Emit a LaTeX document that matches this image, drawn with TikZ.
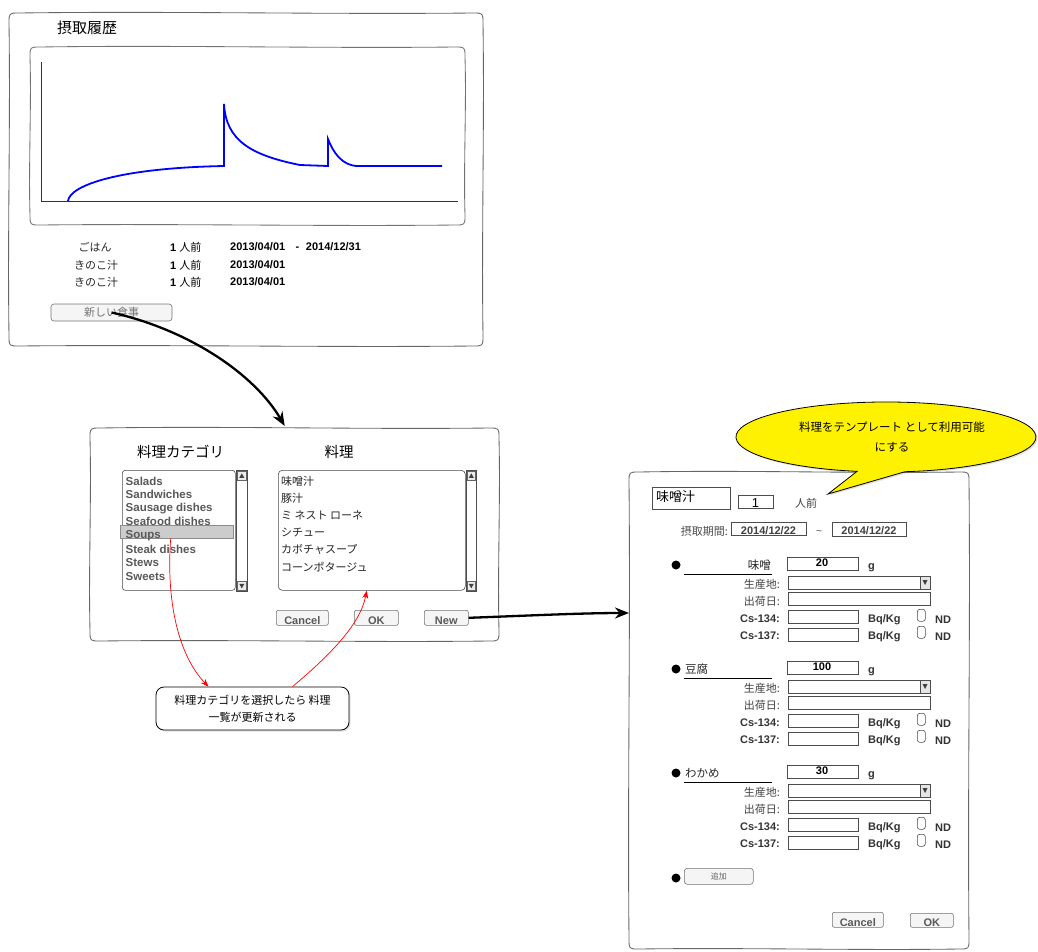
\documentclass[tikz,border=0pt]{standalone}
\usepackage{fontspec}
\setmainfont{Liberation Sans}
\newfontfamily\jp{Noto Sans CJK JP}
\usetikzlibrary{arrows.meta,shadows,calc}

\tikzset{
  framestyle/.style={draw=black!60, line width=0.85pt},
  field/.style={draw=black!70, line width=0.6pt, fill=white, inner sep=0pt},
  btn/.style={draw=black!55, line width=0.6pt, fill=black!4, rounded corners=2pt, inner sep=0pt,
    text=black!65, font=\bfseries\fontsize{11}{13}\selectfont},
  low/.style={text height=13pt, text depth=0pt},
  lbl/.style={inner sep=0pt, text=black!85, font=\fontsize{11}{13}\selectfont},
  jlbl/.style={inner sep=0pt, text=black!85, font=\jp\fontsize{11}{13}\selectfont},
  blbl/.style={inner sep=0pt, text=black!80, font=\bfseries\fontsize{11}{13}\selectfont},
  dot/.style={circle, fill=black, inner sep=0pt, minimum size=9pt},
  chk/.style={draw=black!70, line width=0.6pt, rounded corners=2.5pt, inner sep=0pt,
    minimum width=8pt, minimum height=12pt},
  bigarrow/.style={draw=black, line width=2.3pt, -{Stealth[length=14pt,width=11pt]}},
  redarrow/.style={draw=red, line width=0.7pt, -{Stealth[length=8pt,width=6pt]}},
}

% hand-drawn window frame: [options]{name}{x1}{y1}{x2}{y2}
\newcommand\sketchframe[6][]{%
  \node[inner sep=0pt, anchor=north west, minimum width={((#5)-(#3))*1pt},
        minimum height={((#6)-(#4))*1pt}] (#2) at ({#3},{#4}) {};
  \draw[framestyle,#1]
    ({#3+10},{#4}) .. controls ({#3+((#5)-(#3))/3},{#4-2}) and ({#3+2*((#5)-(#3))/3},{#4+1.5}) .. ({#5-10},{#4})
    .. controls ({#5},{#4}) .. ({#5},{#4+10})
    .. controls ({#5+1.5},{#4+((#6)-(#4))/3}) and ({#5-1.5},{#4+2*((#6)-(#4))/3}) .. ({#5},{#6-10})
    .. controls ({#5},{#6}) .. ({#5-10},{#6})
    .. controls ({#3+2*((#5)-(#3))/3},{#6+1.5}) and ({#3+((#5)-(#3))/3},{#6-1.5}) .. ({#3+10},{#6})
    .. controls ({#3},{#6}) .. ({#3},{#6-10})
    .. controls ({#3-1.5},{#4+2*((#6)-(#4))/3}) and ({#3+1.5},{#4+((#6)-(#4))/3}) .. ({#3},{#4+10})
    .. controls ({#3},{#4}) .. ({#3+10},{#4}) -- cycle;
}

% input field given by its corners: [options]{name}{x1}{y1}{x2}{y2}
\newcommand\fld[6][]{%
  \node[field,#1,anchor=north west,
        minimum width={((#5)-(#3))*1pt},minimum height={((#6)-(#4))*1pt}] (#2) at ({#3},{#4}) {};}

% vertical scroll bar: {name}{x1}{y1}{x2}{y2}
\newcommand\scrollbar[5]{%
  \fld{#1}{#2}{#3}{#4}{#5}
  \fld[fill=black!8,draw=black!60]{#1up}{#2+1}{#3+1}{#4-1}{#3+10}
  \fld[fill=black!8,draw=black!60]{#1down}{#2+1}{#5-10}{#4-1}{#5-1}
  \fill[black!75] ($(#1up.center)+(-2.5,2)$) -- ($(#1up.center)+(2.5,2)$) -- ($(#1up.center)+(0,-2.5)$) -- cycle;
  \fill[black!75] ($(#1down.center)+(-2.5,-2)$) -- ($(#1down.center)+(2.5,-2)$) -- ($(#1down.center)+(0,2.5)$) -- cycle;
}

% one ingredient block: {prefix}{base y}{name anchor}{name x}{name}{amount}
\newcommand\ingredient[6]{%
  \node[dot] (#1dot) at (676,#2) {};
  \node[jlbl, font=\jp\fontsize{11.5}{13}\selectfont, anchor=#3] (#1name) at (#4,#2) {#5};
  \draw[black, line width=0.8pt] (684,#2+9) -- (772,#2+9);
  \fld{#1amt}{787}{#2-8}{858}{#2+5}
  \node[blbl, text=black] (#1amttext) at (822,#2-2) {#6};
  \node[blbl] (#1unit) at (871.5,#2+3) {g};
  % origin
  \node[jlbl, text=black!75, anchor=east] (#1origlbl) at (780,#2+19) {生産地:};
  \fld{#1orig}{788}{#2+11}{930}{#2+24}
  \fld[fill=black!10]{#1origbtn}{920}{#2+11}{930}{#2+24}
  \fill[black!75] (922.5,#2+15) -- (927.5,#2+15) -- (925,#2+20) -- cycle;
  % shipping date
  \node[jlbl, text=black!75, anchor=east] (#1shiplbl) at (780,#2+36) {出荷日:};
  \fld{#1ship}{788}{#2+27}{930}{#2+40}
  % caesium 134
  \node[blbl, anchor=east] (#1csalbl) at (780,#2+54) {Cs-134:};
  \fld{#1csa}{788}{#2+45}{858}{#2+58}
  \node[blbl, anchor=west] (#1csaunit) at (868,#2+55) {Bq/Kg};
  \node[chk, anchor=north west] (#1csachk) at (917,#2+44) {};
  \node[blbl, anchor=west] (#1csand) at (935,#2+55) {ND};
  % caesium 137
  \node[blbl, anchor=east] (#1csblbl) at (780,#2+71) {Cs-137:};
  \fld{#1csb}{788}{#2+63}{858}{#2+76}
  \node[blbl, anchor=west] (#1csbunit) at (868,#2+72) {Bq/Kg};
  \node[chk, anchor=north west] (#1csbchk) at (917,#2+61) {};
  \node[blbl, anchor=west] (#1csbnd) at (935,#2+72) {ND};
}

\begin{document}
\begin{tikzpicture}[x=1pt,y=-1pt]
\useasboundingbox (0,0) rectangle (1038,951);

% ---------------- intake history window ----------------
\sketchframe{hist}{9}{13}{483}{346}
\node[jlbl, font=\jp\fontsize{15}{18}\selectfont, text=black, anchor=west] (histtitle) at (57,28) {摂取履歴};
\sketchframe[draw=black!55]{chart}{30}{47}{465}{225}
\draw[black!80, line width=1pt] (41,62) -- (41,201) -- (458,201);
\draw[blue, line width=1.8pt, line join=miter]
  (68,201) .. controls (70,185) and (120,168) .. (224,166) -- (224,104)
  .. controls (226,140) and (250,155) .. (300,165) -- (328,166) -- (328,139)
  .. controls (333,152) and (342,166) .. (358,166) -- (442,166);

\node[jlbl] (r1food) at (95,247) {ごはん};
\node[blbl, text=black, anchor=west] (r1qty) at (170,247) {1 \mdseries\jp 人前};
\node[blbl, text=black, anchor=west] (r1dates) at (230,247) {2013/04/01\hspace{10.5pt}-\hspace{6.5pt}2014/12/31};
\node[jlbl] (r2food) at (96,265) {きのこ汁};
\node[blbl, text=black, anchor=west] (r2qty) at (170,265) {1 \mdseries\jp 人前};
\node[blbl, text=black, anchor=west] (r2dates) at (230,265) {2013/04/01};
\node[jlbl] (r3food) at (96,282) {きのこ汁};
\node[blbl, text=black, anchor=west] (r3qty) at (170,282) {1 \mdseries\jp 人前};
\node[blbl, text=black, anchor=west] (r3dates) at (230,282) {2013/04/01};

\node[btn, rounded corners=3pt, font=\jp\fontsize{11}{13}\selectfont, text=black!55,
      minimum width=121pt, minimum height=17pt] (newmeal) at (111.5,312.5) {新しい食事};

% ---------------- dish selection window ----------------
\sketchframe{dish}{90}{428}{499}{641}
\node[jlbl, font=\jp\fontsize{14.5}{17}\selectfont, text=black, anchor=west] (cattitle) at (137,452) {料理カテゴリ};
\node[jlbl, font=\jp\fontsize{14.5}{17}\selectfont, text=black] (dishtitle) at (339,452) {料理};

\fld[rounded corners=3pt]{cats}{122}{470}{235}{590}
\scrollbar{catscroll}{236}{470}{247}{591}
\node[draw=black!45, fill=black!20, inner sep=0pt, minimum width=113pt, minimum height=13pt,
      anchor=north west] (soups) at (120,525) {};
\foreach \item [count=\i] in {Salads,Sandwiches,Sausage dishes,Seafood dishes,Soups,Steak dishes,Stews,Sweets}
  \node[blbl, font=\bfseries\fontsize{11.5}{13}\selectfont, text=black!65, anchor=west] (cat\i) at (125.5,{481+13.6*(\i-1)}) {\item};

\fld[rounded corners=4pt]{recipes}{278}{470}{465}{590}
\scrollbar{recscroll}{466}{470}{476}{591}
\foreach \item [count=\i] in {味噌汁,豚汁,ミ ネスト ローネ,シチュー,カボチャスープ,コーンポタージュ}
  \node[jlbl, anchor=west] (rec\i) at (281,{481+17.2*(\i-1)}) {\item};

\node[btn, low, minimum width=52pt, minimum height=15pt, anchor=north west] (cancelbtn) at (276,610) {Cancel};
\node[btn, low, minimum width=44pt, minimum height=15pt, anchor=north west] (okbtn) at (354,610) {OK};
\node[btn, low, minimum width=44pt, minimum height=15pt, anchor=north west] (newbtn) at (424,610) {New};

% note on the category list
\node[draw=black, line width=0.8pt, fill=white, rounded corners=8pt, minimum width=193pt,
      minimum height=43pt, align=center, font=\jp\fontsize{11}{17}\selectfont,
      drop shadow={opacity=0.25, shadow xshift=1.5pt, shadow yshift=-1.5pt}] (note) at (252.5,708.5)
      {料理カテゴリを選択したら 料理\\一覧が更新される};

% ---------------- dish editor window ----------------
\sketchframe{editor}{629}{472}{969}{949}

\fld{dishname}{652}{487}{730}{509}
\node[jlbl, font=\jp\fontsize{13}{15}\selectfont, text=black, anchor=west] (dishnametext) at (656,497) {味噌汁};
\fld{servings}{738}{495}{773}{508}
\node[lbl, font=\fontsize{13}{15}\selectfont, text=black] (servingstext) at (755.5,503) {1};
\node[jlbl, text=black!75, anchor=west] (servingsunit) at (795,503) {人前};

\node[jlbl, text=black!70, anchor=east] (periodlbl) at (728,531) {摂取期間:};
\fld{datefrom}{731}{522}{806}{535}
\node[blbl, text=black!75] (datefromtext) at (768.5,531) {2014/12/22};
\node[lbl, font=\fontsize{10}{12}\selectfont, text=black!75] (tilde) at (819,533) {\textasciitilde};
\fld{dateto}{832}{522}{906}{536}
\node[blbl, text=black!75] (datetotext) at (869,531) {2014/12/22};

\ingredient{miso}{565}{east}{771}{味噌}{20}
\ingredient{tofu}{669}{west}{685}{豆腐}{100}
\ingredient{wakame}{773}{west}{685}{わかめ}{30}

\node[dot] (adddot) at (676,878) {};
\node[btn, rounded corners=3pt, font=\jp\fontsize{8}{10}\selectfont, text=black!60,
      minimum width=69pt, minimum height=16pt, anchor=north west] (addbtn) at (684,868) {追加};

\node[btn, low, minimum width=51pt, minimum height=15pt, anchor=north west] (edcancel) at (832,912) {Cancel};
\node[btn, low, minimum width=43pt, minimum height=14pt, anchor=north west] (edok) at (910,913) {OK};

% speech bubble above the editor
\path[draw=black, line width=0.8pt, fill=yellow,
      drop shadow={opacity=0.25, shadow xshift=1.5pt, shadow yshift=-1.5pt}]
  (905,471.7) arc[start angle=82.7, end angle=-258.9, x radius=150, y radius=35]
  -- (828,494) -- cycle;
\node[jlbl, font=\jp\fontsize{11.5}{20}\selectfont, text=black, align=center] (bubbletext) at (892,437)
  {料理をテンプレート として利用可能\\にする};

% ---------------- connectors ----------------
\draw[bigarrow] (newmeal.center) .. controls (190,330) and (255,375) .. ($(dish.north)+(-10,-2)$);
\draw[bigarrow] (newbtn.east) .. controls (520,616) and (580,613) .. (editor.west |- 0,613);
\draw[redarrow] ($(soups.south)+(-6,0)$) .. controls (166,600) and (178,655) .. ($(note.north)+(-44,0)$);
\draw[redarrow] ($(note.north)+(40,0)$) .. controls (330,655) and (360,625) .. ($(recipes.south)+(-5,0)$);
\end{tikzpicture}
\end{document}
